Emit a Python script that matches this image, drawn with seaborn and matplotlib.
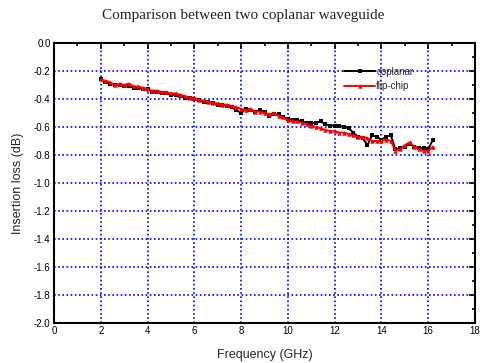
import numpy as np
import pandas as pd
import matplotlib
matplotlib.use("Agg")
import matplotlib.pyplot as plt
import seaborn as sns
from matplotlib.ticker import MultipleLocator

freq = [round(2.0 + 0.2 * i, 1) for i in range(72)]
coplanar = [-0.26, -0.28, -0.29, -0.30, -0.30, -0.31, -0.31, -0.32, -0.32, -0.33,
            -0.33, -0.35, -0.35, -0.36, -0.36, -0.37, -0.37, -0.38, -0.39, -0.39,
            -0.40, -0.41, -0.42, -0.42, -0.43, -0.44, -0.44, -0.45, -0.46, -0.48,
            -0.50, -0.47, -0.48, -0.49, -0.48, -0.49, -0.52, -0.51, -0.51, -0.53,
            -0.54, -0.55, -0.55, -0.56, -0.57, -0.57, -0.57, -0.56, -0.58, -0.59,
            -0.59, -0.59, -0.60, -0.61, -0.64, -0.67, -0.68, -0.73, -0.66, -0.67,
            -0.69, -0.67, -0.66, -0.76, -0.75, -0.74, -0.72, -0.74, -0.75, -0.75,
            -0.76, -0.69]
flipchip = [-0.26, -0.27, -0.28, -0.30, -0.29, -0.30, -0.29, -0.31, -0.31, -0.32,
            -0.33, -0.34, -0.34, -0.35, -0.35, -0.36, -0.36, -0.37, -0.38, -0.39,
            -0.39, -0.41, -0.41, -0.42, -0.43, -0.43, -0.44, -0.44, -0.45, -0.46,
            -0.47, -0.48, -0.47, -0.49, -0.49, -0.50, -0.51, -0.50, -0.52, -0.53,
            -0.55, -0.56, -0.56, -0.57, -0.58, -0.59, -0.60, -0.61, -0.62, -0.63,
            -0.63, -0.64, -0.64, -0.65, -0.66, -0.67, -0.67, -0.68, -0.70, -0.70,
            -0.70, -0.69, -0.70, -0.77, -0.76, -0.73, -0.71, -0.74, -0.76, -0.77,
            -0.77, -0.74]

title = "Comparison between two coplanar waveguide"
xlabel = "Frequency (GHz)"
ylabel = "Insertion loss (dB)"

sns.set_style("white")
plt.rcParams['font.family'] = ['Liberation Sans', 'DejaVu Sans']

fig = plt.figure(figsize=(4.81, 3.63), dpi=100)
ax = fig.add_axes([0.1123, 0.1102, 0.8752, 0.7713])

df_c = pd.DataFrame({"f": freq, "v": coplanar})
df_f = pd.DataFrame({"f": freq, "v": flipchip})
sns.lineplot(data=df_c, x="f", y="v", ax=ax, color="black", lw=1.4,
             marker="s", markersize=3.2, markeredgewidth=0, label="coplanar")
sns.lineplot(data=df_f, x="f", y="v", ax=ax, color="red", lw=1.4,
             marker="^", markersize=3.2, markeredgewidth=0, label="flip-chip")

ax.set_xlim(0, 18)
ax.set_ylim(-2.0, 0.0)
ax.xaxis.set_major_locator(MultipleLocator(2))
ax.xaxis.set_minor_locator(MultipleLocator(1))
ax.yaxis.set_major_locator(MultipleLocator(0.2))
ax.yaxis.set_minor_locator(MultipleLocator(0.1))
ax.yaxis.set_major_formatter(matplotlib.ticker.FormatStrFormatter('%.1f'))
ax.grid(True, which="major", color="blue", linestyle=(0, (1, 1.5)), linewidth=1.2)
ax.set_axisbelow(True)
ax.tick_params(which="both", direction="in", top=True, right=True,
               labelsize=7, width=1.2, colors="black")
ax.tick_params(which="major", length=4, pad=2.5)
ax.tick_params(which="minor", length=2)
for s in ax.spines.values():
    s.set_linewidth(1.5)
    s.set_color("black")

ax.set_xlabel(xlabel, fontsize=9, labelpad=9)
ax.set_ylabel(ylabel, fontsize=9, labelpad=7)

fig.text(0.505, 1 - 15 / 363, title, ha="center", va="center",
         fontsize=11, color="#222222", family=["Liberation Serif", "DejaVu Serif"])

leg = ax.legend(loc="upper left", bbox_to_anchor=(0.68, 0.93), frameon=False,
                fontsize=7, handlelength=3.2, handletextpad=0.1,
                labelspacing=0.5, borderaxespad=0)

fig.savefig("out.png", dpi=100)
